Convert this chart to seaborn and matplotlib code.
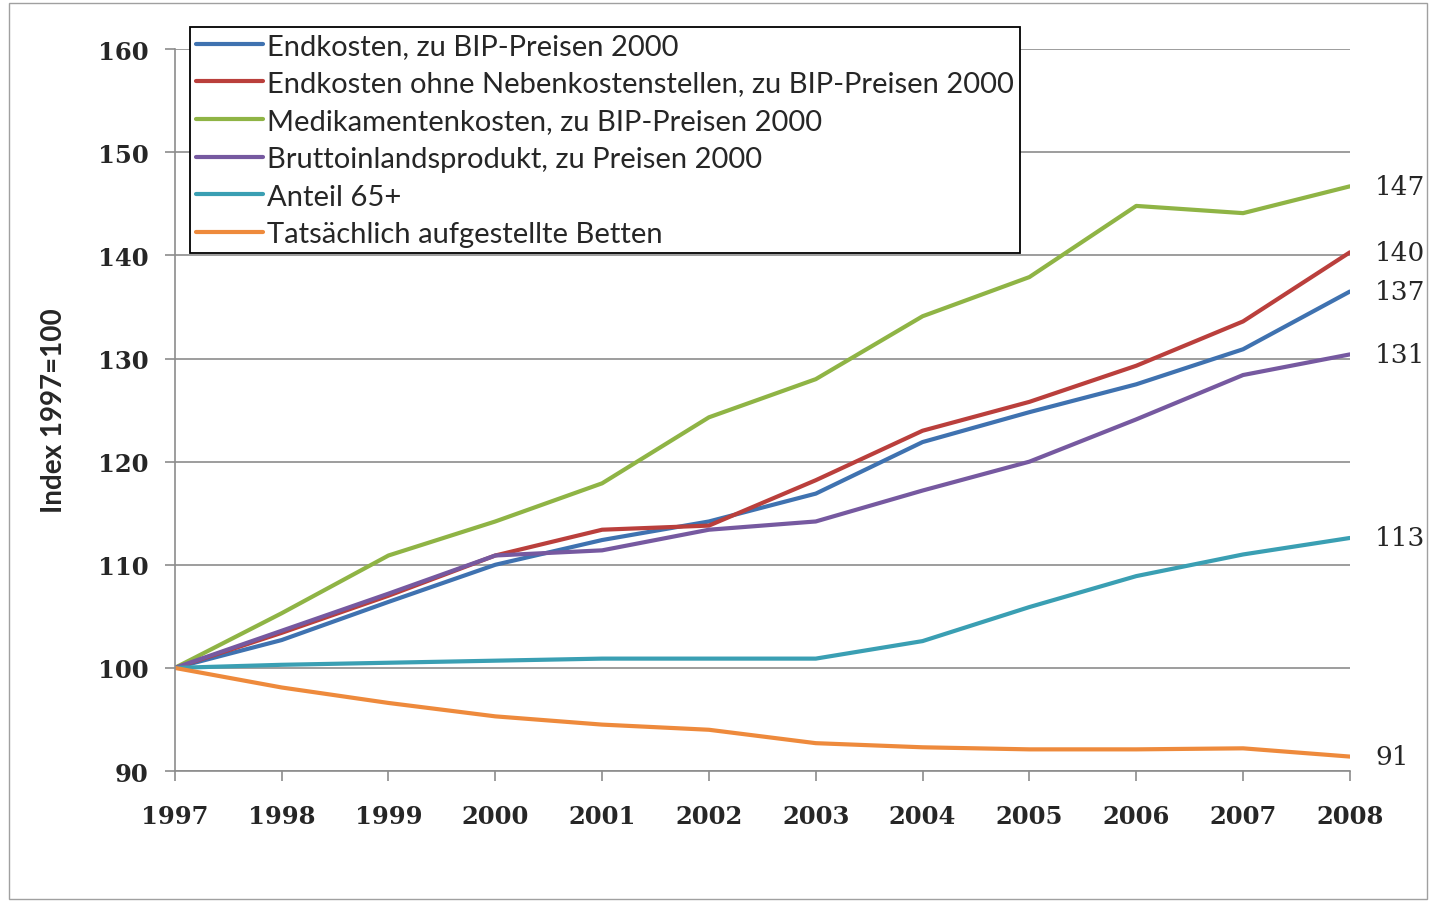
import matplotlib
matplotlib.use("Agg")
import matplotlib.pyplot as plt
import pandas as pd
import seaborn as sb
from matplotlib.patches import Rectangle

years = list(range(1997, 2009))

endkosten = [100, 102.7, 106.4, 110.0, 112.4, 114.2, 116.9, 121.9, 124.8, 127.5, 130.9, 136.5]
endkosten_ohne = [100, 103.4, 107.0, 110.9, 113.4, 113.8, 118.2, 123.0, 125.8, 129.3, 133.6, 140.3]
medikamente = [100, 105.3, 110.9, 114.2, 117.9, 124.3, 128.0, 134.1, 137.9, 144.8, 144.1, 146.7]
bip = [100, 103.6, 107.2, 110.9, 111.4, 113.4, 114.2, 117.2, 120.0, 124.1, 128.4, 130.4]
anteil65 = [100, 100.3, 100.5, 100.7, 100.9, 100.9, 100.9, 102.6, 105.9, 108.9, 111.0, 112.6]
betten = [100, 98.1, 96.6, 95.3, 94.5, 94.0, 92.7, 92.3, 92.1, 92.1, 92.2, 91.4]

series_names = [
    "Endkosten, zu BIP-Preisen 2000",
    "Endkosten ohne Nebenkostenstellen, zu BIP-Preisen 2000",
    "Medikamentenkosten, zu BIP-Preisen 2000",
    "Bruttoinlandsprodukt, zu Preisen 2000",
    "Anteil 65+",
    "Tatsächlich aufgestellte Betten",
]
series_values = [endkosten, endkosten_ohne, medikamente, bip, anteil65, betten]
end_labels = ["137", "140", "147", "131", "113", "91"]
colors = ["#3F72B0", "#BA3F3C", "#8FB445", "#7659A0", "#3A9FB3", "#EE8A3C"]

rows = []
for name, vals in zip(series_names, series_values):
    for yr, v in zip(years, vals):
        rows.append({"Jahr": yr, "Wert": v, "Serie": name})
df = pd.DataFrame(rows)

sb.set_style("white")
fig = plt.figure(figsize=(14.33, 9.04), dpi=100)
ax = fig.add_axes([0.122, 0.146, 0.820, 0.7985])

sb.lineplot(data=df, x="Jahr", y="Wert", hue="Serie", hue_order=series_names,
            palette=colors, linewidth=3, ax=ax)

ax.set_xlim(1997, 2008)
ax.set_ylim(90, 160)
ax.set_yticks(range(90, 161, 10))
ax.set_xticks(years)
ax.yaxis.grid(True, color="#8c8c8c", linewidth=1.2)
ax.set_axisbelow(True)

for s in ["top", "right"]:
    ax.spines[s].set_visible(False)
for s in ["left", "bottom"]:
    ax.spines[s].set_color("#8c8c8c")
    ax.spines[s].set_linewidth(1.2)

ax.tick_params(axis="y", direction="out", length=7, width=1.2, color="#8c8c8c", pad=12, left=True)
ax.tick_params(axis="x", direction="out", length=7, width=1.2, color="#8c8c8c", pad=17, bottom=True)
for lab in ax.get_xticklabels() + ax.get_yticklabels():
    lab.set_fontfamily("DejaVu Serif")
    lab.set_fontweight("bold")
    lab.set_fontsize(17.5)

ax.set_xlabel("")
ax.set_ylabel("Index 1997=100", fontsize=20, fontweight="bold", family="Lato", labelpad=22)

for vals, lab in zip(series_values, end_labels):
    ax.annotate(lab, xy=(years[-1], vals[-1]), xytext=(18, 0), textcoords="offset points",
                va="center", ha="left", fontsize=19, family="DejaVu Serif", annotation_clip=False)

leg = ax.legend(loc="upper left", bbox_to_anchor=(0.1326, 0.969), bbox_transform=fig.transFigure,
                frameon=True, fancybox=False, edgecolor="black", framealpha=1,
                fontsize=21, handlelength=2.3, handletextpad=0.15, labelspacing=0.4,
                borderpad=0.2, borderaxespad=0)
leg.get_frame().set_linewidth(1.3)
for t in leg.get_texts():
    t.set_family("Lato")
for h in leg.get_lines():
    h.set_linewidth(3)

fig.patches.append(Rectangle((0.006, 0.004), 0.99, 0.992, transform=fig.transFigure,
                             fill=False, edgecolor="#a0a0a0", linewidth=1))

plt.savefig("out.png", dpi=100)
